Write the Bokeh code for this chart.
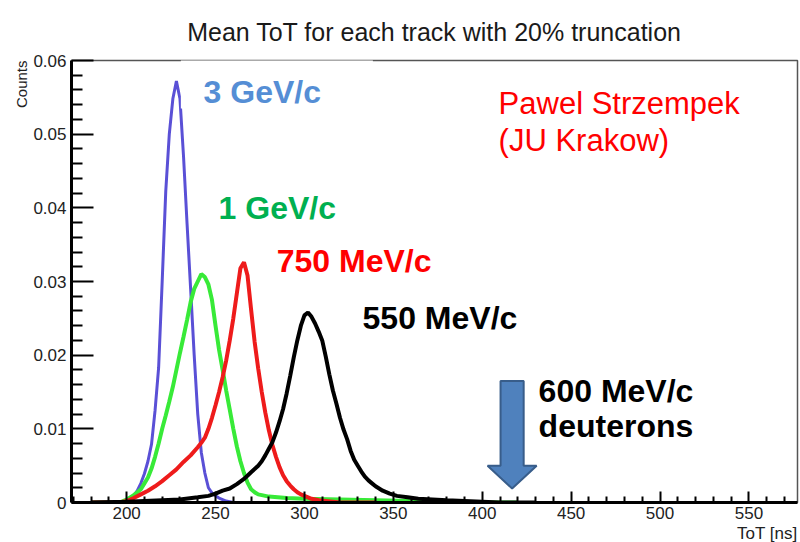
from bokeh.plotting import figure
from bokeh.models import Label, FixedTicker, Range1d, CustomJSTickFormatter, BoxAnnotation, Title
from bokeh.embed import file_html
from bokeh.resources import INLINE

# ---------------- data ----------------
title_text = "Mean ToT for each track with 20% truncation"
x_label = "ToT [ns]"
y_label = "Counts"

x_ticks = [200, 250, 300, 350, 400, 450, 500, 550]
x_minor = [170, 180, 190, 210, 220, 230, 240, 260, 270, 280, 290, 310, 320, 330, 340,
           360, 370, 380, 390, 410, 420, 430, 440, 460, 470, 480, 490, 510, 520, 530,
           540, 560, 570]
y_ticks = [0.0, 0.01, 0.02, 0.03, 0.04, 0.05, 0.06]
y_minor = [0.002, 0.004, 0.006, 0.008, 0.012, 0.014, 0.016, 0.018, 0.022, 0.024, 0.026,
           0.028, 0.032, 0.034, 0.036, 0.038, 0.042, 0.044, 0.046, 0.048, 0.052, 0.054,
           0.056, 0.058]

# 3 GeV/c (blue)
blue_x = [180, 196, 198, 200, 202, 204, 206, 208, 210, 212, 214, 216, 218, 220, 222, 224,
          226, 228, 230, 232, 234, 236, 238, 240, 242, 244, 246, 248, 250, 252, 254, 256,
          258, 260, 280, 300]
blue_y = [0.0, 0.0, 0.0001, 0.0002, 0.0005, 0.0009, 0.0016, 0.0026, 0.0039, 0.0056, 0.0079,
          0.0125, 0.0183, 0.0300, 0.0422, 0.0500, 0.0548, 0.0572, 0.0548, 0.0470, 0.0378,
          0.0290, 0.0200, 0.0120, 0.0068, 0.0040, 0.0020, 0.0013, 0.0009, 0.0006, 0.0004,
          0.0002, 0.0001, 0.0, 0.0, 0.0]

# 1 GeV/c (green)
green_x = [180, 196, 198, 200, 202, 204, 206, 208, 210, 212, 214, 216, 218, 220, 222, 224,
           226, 228, 230, 232, 234, 236, 238, 240, 242, 244, 246, 248, 250, 252, 254, 256,
           258, 260, 262, 264, 266, 268, 270, 272, 274, 276, 280, 290, 300, 320, 340, 360,
           380, 400, 420]
green_y = [0.0, 0.0, 0.0002, 0.0004, 0.0007, 0.0010, 0.0014, 0.0018, 0.0026, 0.0034, 0.0046,
           0.0062, 0.0080, 0.0100, 0.0118, 0.0137, 0.0157, 0.0180, 0.0203, 0.0225, 0.0248,
           0.0272, 0.0290, 0.0300, 0.0310, 0.0306, 0.0296, 0.0275, 0.0240, 0.0207, 0.0180,
           0.0152, 0.0126, 0.0100, 0.0076, 0.0056, 0.0040, 0.0027, 0.0018, 0.0014, 0.0011,
           0.0010, 0.0008, 0.0006, 0.0005, 0.0004, 0.0003, 0.0002, 0.0001, 0.0, 0.0]

# 750 MeV/c (red)
red_x = [180, 196, 200, 204, 208, 212, 216, 220, 224, 228, 232, 236, 240, 242, 244, 246,
         248, 250, 252, 254, 256, 258, 260, 262, 264, 266, 268, 270, 272, 274, 276, 278,
         280, 282, 284, 286, 288, 290, 292, 294, 296, 298, 300, 304, 308, 312, 320, 340]
red_y = [0.0, 0.0, 0.0002, 0.0006, 0.0011, 0.0016, 0.0022, 0.0029, 0.0037, 0.0045, 0.0055,
         0.0064, 0.0075, 0.0081, 0.0088, 0.0100, 0.0115, 0.0132, 0.0150, 0.0170, 0.0193,
         0.0220, 0.0250, 0.0284, 0.0318, 0.0326, 0.0308, 0.0262, 0.0218, 0.0182, 0.0150,
         0.0122, 0.0098, 0.0078, 0.0062, 0.0048, 0.0037, 0.0029, 0.0023, 0.0018, 0.0014,
         0.0011, 0.0009, 0.0005, 0.0003, 0.0002, 0.0, 0.0]

# 550 MeV/c (black)
black_x = [180, 200, 210, 220, 230, 240, 246, 250, 254, 258, 262, 266, 270, 274, 276, 278,
           280, 282, 284, 286, 288, 290, 292, 294, 296, 298, 300, 302, 304, 306, 308, 310,
           312, 314, 316, 318, 320, 322, 324, 326, 328, 330, 332, 334, 336, 338, 340, 344,
           348, 352, 358, 364, 372, 380, 390, 400, 410, 430]
black_y = [0.0, 0.0001, 0.0002, 0.0003, 0.0004, 0.0007, 0.0009, 0.0012, 0.0016, 0.0019,
           0.0025, 0.0032, 0.0041, 0.0050, 0.0056, 0.0064, 0.0073, 0.0082, 0.0095, 0.0110,
           0.0127, 0.0148, 0.0172, 0.0197, 0.0220, 0.0240, 0.0254, 0.0258, 0.0252, 0.0243,
           0.0232, 0.0220, 0.0198, 0.0174, 0.0152, 0.0134, 0.0115, 0.0099, 0.0086, 0.0070,
           0.0058, 0.0050, 0.0042, 0.0035, 0.0030, 0.0026, 0.0022, 0.0016, 0.0012, 0.0009,
           0.0007, 0.0005, 0.0004, 0.0003, 0.0002, 0.0001, 0.0, 0.0]

FONT = "Liberation Sans"

p = figure(width=800, height=542, output_backend="svg", toolbar_location=None,
           x_range=Range1d(169, 577.3), y_range=Range1d(0, 0.06),
           min_border_left=71, min_border_right=3, min_border_top=60, min_border_bottom=39,
           background_fill_color="white", border_fill_color="white")
p.xgrid.visible = False
p.ygrid.visible = False
p.outline_line_color = "#555555"
p.outline_line_width = 1.5

p.title.text = title_text
p.title.align = "center"
p.title.vertical_align = "bottom"
p.title.text_font = FONT
p.title.text_font_size = "25px"
p.title.text_font_style = "normal"
p.title.text_color = "#1a1a1a"
p.title.text_line_height = 0.7
p.title.standoff = 30
p.title.offset = 5

fmt = CustomJSTickFormatter(code="return tick == 0 ? '0' : (Math.abs(tick) < 1 ? tick.toFixed(2) : tick.toFixed(0));")

for ax in (p.xaxis[0], p.yaxis[0]):
    ax.axis_line_width = 3
    ax.axis_line_color = "black"
    ax.major_tick_out = 0
    ax.minor_tick_out = 0
    ax.major_tick_line_width = 2
    ax.minor_tick_line_width = 2
    ax.major_tick_line_color = "black"
    ax.minor_tick_line_color = "black"
    ax.major_label_text_font = FONT
    ax.major_label_text_font_size = "17px"
    ax.major_label_text_color = "#222222"
    ax.formatter = fmt

p.xaxis.ticker = FixedTicker(ticks=x_ticks, minor_ticks=x_minor)
p.yaxis.ticker = FixedTicker(ticks=y_ticks, minor_ticks=y_minor)
p.xaxis.major_tick_in = 11
p.xaxis.minor_tick_in = 6
p.yaxis.major_tick_in = 22
p.yaxis.minor_tick_in = 11
p.xaxis.major_label_standoff = 4
p.yaxis.major_label_standoff = 5

# axis titles, aligned to the axis ends as in ROOT
p.add_layout(Title(text=x_label, align="right", text_font=FONT, text_font_size="17px",
                   text_font_style="normal", text_color="#222222", standoff=0), "below")
p.add_layout(Title(text=y_label, align="right", text_font=FONT, text_font_size="15px",
                   text_font_style="normal", text_color="#222222", standoff=2), "left")

# curves
p.line(blue_x, blue_y, line_color="#5A50D6", line_width=3)
p.line(green_x, green_y, line_color="#38EA38", line_width=4)
p.line(red_x, red_y, line_color="#EE1B1B", line_width=4)
p.line(black_x, black_y, line_color="black", line_width=4)

# white patch behind "3 GeV/c" (covers part of the frame top, as in the original)
p.add_layout(BoxAnnotation(left=230.5, right=338.5, bottom=0.0535, top=0.0612,
                           fill_color="white", fill_alpha=1.0, line_alpha=0))

# arrow (600 MeV/c deuterons)
ax_c = 416.8
shaft_hw = 6.5
head_hw = 13.8
y_top = 0.0165
y_base = 0.0050
y_tip = 0.0019
arrow_xs = [ax_c - shaft_hw, ax_c + shaft_hw, ax_c + shaft_hw, ax_c + head_hw, ax_c,
            ax_c - head_hw, ax_c - shaft_hw]
arrow_ys = [y_top, y_top, y_base, y_base, y_tip, y_base, y_base]
p.patch(arrow_xs, arrow_ys, fill_color="#4F81BD", line_color="#385D8A", line_width=2)

def lab(text, x, y, color, size="32px", style="bold"):
    p.add_layout(Label(x=x, y=y, text=text, text_color=color, text_font=FONT,
                       text_font_size=size, text_font_style=style,
                       text_baseline="middle"))

lab("3 GeV/c", 243.3, 0.0557, "#558ED5")
lab("1 GeV/c", 251.7, 0.0400, "#00B050")
lab("750 MeV/c", 284.4, 0.0328, "#FF0000")
lab("550 MeV/c", 332.7, 0.0251, "black")
lab("600 MeV/c", 431.7, 0.0152, "black")
lab("deuterons", 431.7, 0.0104, "black")
lab("Pawel Strzempek", 409.2, 0.0542, "#FF0000", size="31px", style="normal")
lab("(JU Krakow)", 409.2, 0.0492, "#FF0000", size="31px", style="normal")

open("out.html", "w").write(file_html(p, INLINE))
